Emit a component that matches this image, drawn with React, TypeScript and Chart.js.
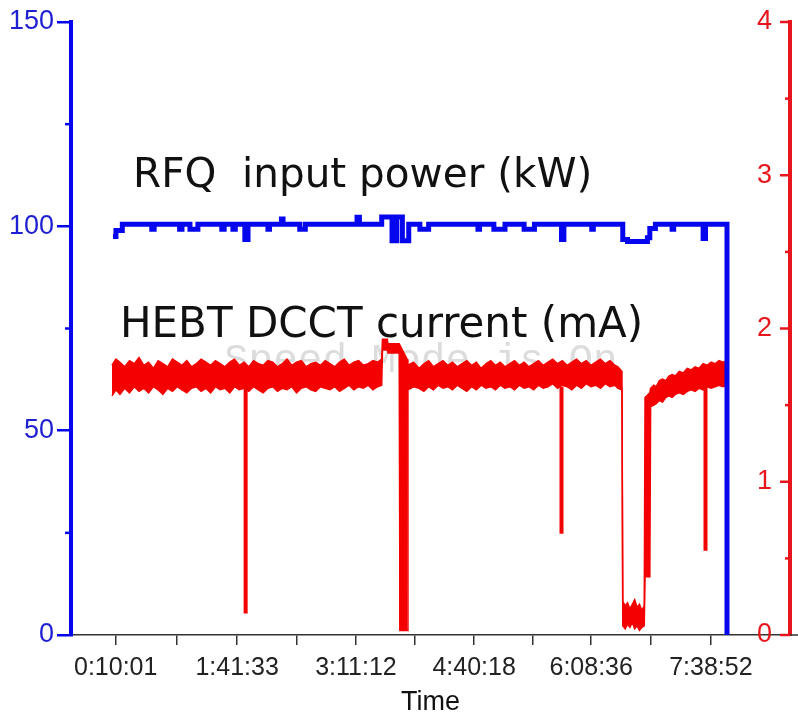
import { useEffect, useRef } from 'react';
import { Chart, registerables } from 'chart.js';

Chart.register(...registerables);

// ---------- data ----------
const timeLabels = ['0:10:01', '1:41:33', '3:11:12', '4:40:18', '6:08:36', '7:38:52'];
const powerTicks = [0, 50, 100, 150];
const powerMinorTicks = [25, 75, 125];
const currentTicks = [0, 1, 2, 3, 4];
const currentMinorTicks = [0.5, 1.5, 2.5, 3.5];

// RFQ input power (kW), sample-and-hold, time in hours
const powerTimes = [0.133, 0.17, 0.25, 0.62, 0.65, 0.97, 1.0, 1.1, 1.2, 1.5, 1.53, 1.64, 1.67, 1.79, 1.83, 2.08, 2.10, 2.25, 2.27, 2.48, 2.55, 3.20, 3.23, 3.51, 3.64, 3.70, 3.77, 3.85, 3.99, 4.10, 4.72, 4.74, 4.92, 5.06, 5.30, 5.43, 5.77, 5.80, 6.15, 6.17, 6.54, 6.60, 6.85, 6.88, 6.95, 7.16, 7.18, 7.55, 7.58, 7.85];
const powerValues = [97.5, 99.0, 100.5, 99.3, 100.5, 99.3, 100.5, 99.3, 100.5, 99.3, 100.5, 99.3, 100.5, 96.8, 100.5, 99.3, 100.5, 101.8, 100.5, 99.3, 100.5, 102.2, 100.5, 102.3, 96.5, 102.3, 96.5, 100.5, 99.3, 100.5, 99.3, 100.5, 99.3, 100.5, 99.3, 100.5, 96.8, 100.5, 99.3, 100.5, 96.8, 96.3, 97.2, 99.5, 100.5, 99.3, 100.5, 97.0, 100.5, 0];

// HEBT DCCT current (mA): upper / lower envelope of the noisy band
const currentTimes = [
  0.12, 0.17, 0.22, 0.28, 0.34, 0.40, 0.46, 0.52, 0.58, 0.64, 0.70, 0.76, 0.82, 0.88, 0.94, 1.00, 1.06, 1.12, 1.18, 1.24, 1.30, 1.36, 1.42, 1.48, 1.54, 1.60, 1.66, 1.72, 1.78, 1.84, 1.90, 1.96, 2.02, 2.08, 2.14, 2.20, 2.26, 2.32, 2.38, 2.44, 2.50, 2.56, 2.62, 2.68, 2.74, 2.80, 2.86, 2.92, 2.98, 3.04, 3.10, 3.16, 3.22, 3.28, 3.34, 3.40, 3.46, 3.51,
  3.52, 3.58, 3.59, 3.73,
  3.74, 3.83,
  3.84, 3.91, 3.98, 4.04, 4.10, 4.16, 4.22, 4.28, 4.34, 4.40, 4.46, 4.52, 4.58, 4.64, 4.70, 4.76, 4.82, 4.88, 4.94, 5.00, 5.06, 5.12, 5.18, 5.24, 5.30, 5.36, 5.42, 5.48, 5.54, 5.60, 5.66, 5.72, 5.78, 5.84, 5.90, 5.96, 6.02, 6.08, 6.14, 6.20, 6.26, 6.32, 6.38, 6.44, 6.48, 6.53,
  6.54, 6.57, 6.60, 6.63, 6.66, 6.69, 6.72, 6.75, 6.78, 6.81,
  6.82, 6.88,
  6.89, 6.93, 6.96, 7.00, 7.04, 7.08, 7.12, 7.16, 7.20, 7.25, 7.30, 7.35, 7.40, 7.45, 7.50, 7.55, 7.60, 7.65, 7.70, 7.75, 7.80, 7.85,
];
const currentUpper = [
  1.76, 1.80, 1.78, 1.75, 1.79, 1.77, 1.81, 1.76, 1.78, 1.74, 1.79, 1.77, 1.75, 1.80, 1.78, 1.76, 1.79, 1.75, 1.77, 1.80, 1.78, 1.76, 1.79, 1.77, 1.75, 1.78, 1.80, 1.76, 1.78, 1.75, 1.79, 1.77, 1.76, 1.79, 1.78, 1.75, 1.77, 1.80, 1.76, 1.78, 1.79, 1.75, 1.77, 1.78, 1.76, 1.79, 1.77, 1.75, 1.78, 1.80, 1.76, 1.78, 1.79, 1.76, 1.77, 1.79, 1.78, 1.80,
  1.93, 1.93, 1.90, 1.90,
  1.90, 1.80,
  1.76, 1.78, 1.74, 1.77, 1.79, 1.75, 1.77, 1.79, 1.76, 1.78, 1.75, 1.77, 1.79, 1.76, 1.78, 1.74, 1.77, 1.79, 1.76, 1.78, 1.75, 1.77, 1.79, 1.76, 1.78, 1.75, 1.77, 1.79, 1.76, 1.78, 1.80, 1.77, 1.79, 1.76, 1.78, 1.80, 1.77, 1.79, 1.76, 1.78, 1.80, 1.77, 1.79, 1.76, 1.75, 1.72,
  0.22, 0.19, 0.21, 0.17, 0.20, 0.23, 0.18, 0.20, 0.16, 0.19,
  1.55, 1.58,
  1.61, 1.63, 1.62, 1.66, 1.67, 1.66, 1.69, 1.70, 1.69, 1.72, 1.71, 1.74, 1.73, 1.75, 1.74, 1.77, 1.76, 1.78, 1.77, 1.79, 1.78, 1.79,
];
const currentLower = [
  1.56, 1.60, 1.57, 1.61, 1.58, 1.62, 1.59, 1.61, 1.58, 1.62, 1.60, 1.57, 1.61, 1.59, 1.62, 1.60, 1.58, 1.61, 1.62, 1.59, 1.61, 1.58, 1.62, 1.60, 1.61, 1.58, 1.62, 1.60, 1.61, 1.59, 1.62, 1.60, 1.58, 1.61, 1.62, 1.59, 1.61, 1.60, 1.62, 1.58, 1.61, 1.62, 1.60, 1.59, 1.62, 1.61, 1.60, 1.62, 1.59, 1.61, 1.63, 1.60, 1.62, 1.61, 1.63, 1.60, 1.62, 1.63,
  1.86, 1.86, 1.84, 1.84,
  0.03, 0.03,
  1.60, 1.62, 1.61, 1.59, 1.62, 1.60, 1.63, 1.61, 1.62, 1.60, 1.63, 1.61, 1.59, 1.62, 1.60, 1.63, 1.61, 1.62, 1.60, 1.63, 1.61, 1.62, 1.60, 1.63, 1.61, 1.62, 1.60, 1.63, 1.61, 1.62, 1.64, 1.61, 1.63, 1.62, 1.60, 1.63, 1.61, 1.64, 1.62, 1.63, 1.61, 1.64, 1.62, 1.63, 1.61, 1.60,
  0.06, 0.04, 0.07, 0.05, 0.08, 0.04, 0.06, 0.03, 0.05, 0.06,
  0.38, 0.38,
  1.49, 1.50, 1.51, 1.53, 1.52, 1.55, 1.56, 1.55, 1.57, 1.58, 1.57, 1.59, 1.60, 1.59, 1.61, 1.60, 1.62, 1.61, 1.62, 1.63, 1.62, 1.63,
];

// short current drops (mA)
const dropTimes = [1.80, 5.77, 7.58];
const dropTop = [1.62, 1.62, 1.62];
const dropBottom = [0.14, 0.66, 0.55];

// ---------- styles ----------
const BLUE = '#0606ee';
const BLUE_LABEL = '#1e1ed2';
const RED = '#f40000';
const RED_AXIS = '#e8161c';
const SANS = "'Liberation Sans', Arial, sans-serif";

const toHours = (s: string) => {
  const [h, m, sec] = s.split(':').map(Number);
  return h + m / 60 + sec / 3600;
};
const labelHours = timeLabels.map(toHours);
const minorHours = labelHours.slice(1).map((h, i) => (h + labelHours[i]) / 2);

const decorPlugin = {
  id: 'decor',
  beforeDatasetsDraw(chart: any) {
    const { ctx } = chart;
    ctx.save();
    ctx.font = "41px 'Liberation Mono', 'DejaVu Sans Mono', monospace";
    ctx.fillStyle = '#dcdcdc';
    ctx.textBaseline = 'alphabetic';
    ctx.fillText('Speed Mode is On', 224, 372);
    ctx.restore();
  },
  afterDraw(chart: any) {
    const { ctx, chartArea, scales } = chart;
    ctx.save();
    // x-axis line continues a little past the right axis
    ctx.strokeStyle = '#333';
    ctx.lineWidth = 1.5;
    ctx.beginPath();
    ctx.moveTo(chartArea.right, chartArea.bottom);
    ctx.lineTo(chart.width, chartArea.bottom);
    ctx.stroke();
    ctx.strokeStyle = BLUE;
    ctx.lineWidth = 2.5;
    powerMinorTicks.forEach((v) => {
      const py = scales.y.getPixelForValue(v);
      ctx.beginPath();
      ctx.moveTo(chartArea.left - 6, py);
      ctx.lineTo(chartArea.left, py);
      ctx.stroke();
    });
    ctx.strokeStyle = RED_AXIS;
    currentTicks.forEach((v) => {
      const py = scales.y1.getPixelForValue(v);
      ctx.beginPath();
      ctx.moveTo(chartArea.right, py);
      ctx.lineTo(chartArea.right - 10, py);
      ctx.stroke();
    });
    currentMinorTicks.forEach((v) => {
      const py = scales.y1.getPixelForValue(v);
      ctx.beginPath();
      ctx.moveTo(chartArea.right, py);
      ctx.lineTo(chartArea.right - 5, py);
      ctx.stroke();
    });
    ctx.fillStyle = '#111';
    ctx.textBaseline = 'alphabetic';
    ctx.font = "40.5px 'DejaVu Sans', sans-serif";
    ctx.fillText('RFQ  input power (kW)', 133, 187);
    ctx.font = "42px 'DejaVu Sans', sans-serif";
    ctx.fillText('HEBT DCCT current (mA)', 120, 337);
    ctx.restore();
  },
};

export default function App() {
  const ref = useRef<HTMLCanvasElement>(null);
  useEffect(() => {
    if (!ref.current) return;
    const dropData: any[] = [];
    dropTimes.forEach((t, i) => {
      dropData.push({ x: t, y: dropTop[i] }, { x: t, y: dropBottom[i] }, { x: t, y: null });
    });
    const chart = new Chart(ref.current, {
      type: 'line',
      data: {
        datasets: [
          {
            label: 'RFQ input power (kW)',
            data: powerTimes.map((t, i) => ({ x: t, y: powerValues[i] })),
            yAxisID: 'y',
            borderColor: BLUE,
            borderWidth: 5,
            stepped: true,
            pointRadius: 0,
            fill: false,
          },
          {
            label: 'upper',
            data: currentTimes.map((t, i) => ({ x: t, y: currentUpper[i] })),
            yAxisID: 'y1',
            borderColor: RED,
            backgroundColor: RED,
            borderWidth: 1.5,
            pointRadius: 0,
            fill: '+1',
          },
          {
            label: 'lower',
            data: currentTimes.map((t, i) => ({ x: t, y: currentLower[i] })),
            yAxisID: 'y1',
            borderColor: RED,
            borderWidth: 1.5,
            pointRadius: 0,
            fill: false,
          },
          {
            label: 'drops',
            data: dropData,
            yAxisID: 'y1',
            borderColor: RED,
            borderWidth: 4,
            pointRadius: 0,
            spanGaps: false,
            fill: false,
          },
        ],
      },
      options: {
        responsive: false,
        animation: false,
        devicePixelRatio: 1,
        layout: { padding: { top: 22, left: 0, right: 0, bottom: 0 } },
        plugins: { legend: { display: false }, tooltip: { enabled: false } },
        elements: { line: { tension: 0 }, point: { radius: 0 } },
        scales: {
          x: {
            type: 'linear',
            min: -0.395,
            max: 8.642,
            afterBuildTicks: (s: any) => {
              s.ticks = [...labelHours, ...minorHours].sort((a, b) => a - b).map((v) => ({ value: v }));
            },
            afterFit: (s: any) => {
              s.height = 89;
            },
            ticks: {
              autoSkip: false,
              maxRotation: 0,
              padding: 8,
              color: '#222',
              font: { family: SANS, size: 25 },
              callback: (v: any) => {
                const i = labelHours.findIndex((h) => Math.abs(h - Number(v)) < 1e-6);
                return i >= 0 ? timeLabels[i] : '';
              },
            },
            grid: { drawOnChartArea: false, tickLength: 10, color: '#333', lineWidth: 1.5 },
            border: { color: '#333', width: 1.5 },
            title: {
              display: true,
              text: 'Time',
              color: '#111',
              font: { family: SANS, size: 27 },
              padding: { top: 0, bottom: 5 },
            },
          },
          y: {
            type: 'linear',
            position: 'left',
            min: 0,
            max: 150,
            afterBuildTicks: (s: any) => {
              s.ticks = powerTicks.map((v) => ({ value: v }));
            },
            afterFit: (s: any) => {
              s.width = 71;
            },
            ticks: { padding: 3, color: BLUE_LABEL, font: { family: SANS, size: 27 } },
            grid: { drawOnChartArea: false, tickLength: 14, color: BLUE, lineWidth: 2.5 },
            border: { color: BLUE, width: 4 },
          },
          y1: {
            type: 'linear',
            position: 'right',
            min: 0,
            max: 4,
            afterBuildTicks: (s: any) => {
              s.ticks = currentTicks.map((v) => ({ value: v }));
            },
            afterFit: (s: any) => {
              s.width = 8;
            },
            ticks: { mirror: true, padding: -18, color: RED_AXIS, font: { family: SANS, size: 27 } },
            grid: { display: false },
            border: { color: RED_AXIS, width: 4 },
          },
        },
      },
      plugins: [decorPlugin],
    } as any);
    return () => chart.destroy();
  }, []);
  return (
    <div style={{ position: 'fixed', left: 0, top: 0, width: 798, height: 724, background: '#fff' }}>
      <canvas ref={ref} width={798} height={724} style={{ display: 'block', width: 798, height: 724 }} />
    </div>
  );
}
